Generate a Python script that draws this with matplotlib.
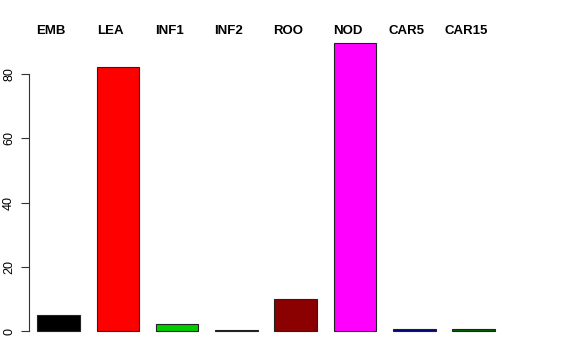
import matplotlib
matplotlib.use("Agg")
import matplotlib.pyplot as plt
import matplotlib.transforms as mtransforms
import numpy as np

categories = ["EMB", "LEA", "INF1", "INF2", "ROO", "NOD", "CAR5", "CAR15"]
values = [5.0, 82.1, 2.2, 0.4, 9.9, 89.6, 0.6, 0.5]
colors = ["#000000", "#FF0000", "#00CD00", "#000000", "#8B0000", "#FF00FF", "#000080", "#006400"]

plt.rcParams['font.family'] = ['Liberation Sans', 'DejaVu Sans']

W, H = 576, 360
fig = plt.figure(figsize=(W / 100, H / 100), dpi=100)
# plot region in pixels: left 29, right 551, top 31.6, bottom 342.6
ax = fig.add_axes([29 / W, 1 - 342.6 / H, (551 - 29) / W, (342.6 - 31.6) / H])

x = np.arange(len(categories))
ax.bar(x, values, width=0.717, color=colors, edgecolor="#222222", linewidth=0.8)
ax.set_xlim(-0.497, 8.305)
ax.set_ylim(-3.6, 93.2)

for s in ['top', 'right', 'bottom']:
  ax.spines[s].set_visible(False)
ax.spines['left'].set_bounds(0, 80)
ax.spines['left'].set_color('#333333')
ax.set_xticks([])
ax.set_yticks([0, 20, 40, 60, 80])
ax.set_yticklabels(['0', '20', '40', '60', '80'], rotation=90, va='center', fontsize=9)
ax.tick_params(axis='y', length=6, width=0.8, pad=4, color='#333333')

trans = mtransforms.blended_transform_factory(ax.transData, fig.transFigure)
for i, lab in enumerate(categories):
  ax.text(i - 0.126, 1 - 30.5 / H, lab, transform=trans, ha='center', va='center',
          fontsize=9.5, fontweight='bold')

fig.savefig("out.png", dpi=100)
plt.close(fig)
